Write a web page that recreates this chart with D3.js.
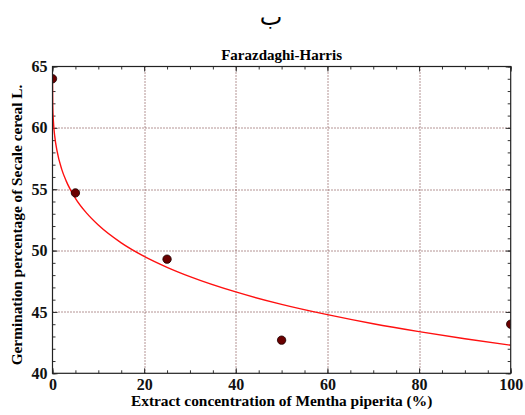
<!DOCTYPE html>
<html>
<head>
<meta charset="utf-8">
<script src="https://cdn.jsdelivr.net/npm/d3@7"></script>
<style>
	body { margin: 0; background: #fff; }
	svg { display: block; font-family: "Liberation Serif", "DejaVu Serif", serif; font-weight: bold; }
</style>
</head>
<body>
<svg class="chart" width="525" height="415"></svg>
<script>
// observed points
const concentrations = [0, 5, 25, 50, 100];
const germination = [64.0, 54.7, 49.3, 42.7, 44.0];
// fitted Farazdaghi-Harris curve
const curveX = [0, 0.05, 0.2, 0.5, 1, 2, 3, 5, 7.5, 10, 15, 20, 25, 30, 40, 50, 60, 70, 80, 90, 100];
const curveY = [64.1, 61.85, 60.53, 59.29, 58.1, 56.64, 55.66, 54.26, 53.03, 52.08, 50.63, 49.53,
	48.64, 47.88, 46.63, 45.62, 44.78, 44.04, 43.4, 42.82, 42.29];
const xTicks = [0, 20, 40, 60, 80, 100];
const yTicks = [40, 45, 50, 55, 60, 65];

function startApp() {
	const margin = {top: 66.5, left: 52.5, bottom: 41.7, right: 14.3};
	const width = 525 - margin.left - margin.right;
	const height = 415 - margin.top - margin.bottom;
	const xScale = d3.scaleLinear().domain([0, 100]).range([0, width]);
	const yScale = d3.scaleLinear().domain([40, 65]).range([height, 0]);
	const svg = d3.select('.chart');

	svg.append('text')
		.attr('x', 271).attr('y', 25)
		.attr('text-anchor', 'middle')
		.style('font-family', '"DejaVu Sans", sans-serif')
		.style('font-weight', 'normal')
		.style('font-size', '24px')
		.text('ب');

	const chart = svg.append('g')
		.attr('transform', `translate(${margin.left}, ${margin.top})`);

	chart.append('defs').append('clipPath').attr('id', 'plot-clip')
		.append('rect').attr('width', width).attr('height', height);

	// grid
	const grid = chart.append('g')
		.attr('stroke', '#6a2a2a')
		.attr('stroke-width', 1)
		.attr('stroke-dasharray', '1,2');
	grid.selectAll('.gx')
		.data(xTicks.slice(1, -1))
		.enter().append('line')
		.attr('x1', d => Math.round(xScale(d)) + 0.5).attr('x2', d => Math.round(xScale(d)) + 0.5)
		.attr('y1', 0).attr('y2', height);
	grid.selectAll('.gy')
		.data(yTicks.slice(1, -1))
		.enter().append('line')
		.attr('y1', d => Math.round(yScale(d)) + 0.5).attr('y2', d => Math.round(yScale(d)) + 0.5)
		.attr('x1', 0).attr('x2', width);

	// inside ticks on all four sides
	const xMinor = d3.range(0, 101, 5);
	const yMinor = d3.range(40, 66, 1);
	const tickAxis = (axis, transform) => chart.append('g')
		.attr('transform', transform)
		.call(axis)
		.call(g => g.select('.domain').remove())
		.call(g => g.selectAll('text').remove())
		.call(g => g.selectAll('line').attr('stroke', '#333'));
	tickAxis(d3.axisBottom(xScale).tickValues(xMinor).tickSize(-3), `translate(0, ${height})`);
	tickAxis(d3.axisTop(xScale).tickValues(xMinor).tickSize(-3), 'translate(0, 0)');
	tickAxis(d3.axisLeft(yScale).tickValues(yMinor).tickSize(-3), 'translate(0, 0)');
	tickAxis(d3.axisRight(yScale).tickValues(yMinor).tickSize(-3), `translate(${width}, 0)`);
	tickAxis(d3.axisBottom(xScale).tickValues(xTicks).tickSize(-5), `translate(0, ${height})`);
	tickAxis(d3.axisTop(xScale).tickValues(xTicks).tickSize(-5), 'translate(0, 0)');
	tickAxis(d3.axisLeft(yScale).tickValues(yTicks).tickSize(-5), 'translate(0, 0)');
	tickAxis(d3.axisRight(yScale).tickValues(yTicks).tickSize(-5), `translate(${width}, 0)`);

	// tick labels
	chart.append('g')
		.attr('transform', `translate(0, ${height})`)
		.call(d3.axisBottom(xScale).tickValues(xTicks).tickSize(0).tickPadding(5))
		.call(g => g.select('.domain').remove())
		.selectAll('text')
		.style('font-family', '"Liberation Serif", serif')
		.style('font-weight', 'bold')
		.style('font-size', '16px')
		.attr('fill', '#111');
	chart.append('g')
		.call(d3.axisLeft(yScale).tickValues(yTicks).tickSize(0).tickPadding(5))
		.call(g => g.select('.domain').remove())
		.selectAll('text')
		.style('font-family', '"Liberation Serif", serif')
		.style('font-weight', 'bold')
		.style('font-size', '16px')
		.attr('fill', '#111');

	// fitted curve
	const line = d3.line()
		.x((d, i) => xScale(curveX[i]))
		.y(d => yScale(d))
		.curve(d3.curveMonotoneX);
	chart.append('path')
		.datum(curveY)
		.attr('clip-path', 'url(#plot-clip)')
		.attr('fill', 'none')
		.attr('stroke', '#ff1010')
		.attr('stroke-width', 1.4)
		.attr('d', line);

	// observed points
	chart.append('g')
		.attr('clip-path', 'url(#plot-clip)')
		.selectAll('circle')
		.data(germination)
		.enter().append('circle')
		.attr('cx', (d, i) => xScale(concentrations[i]))
		.attr('cy', d => yScale(d))
		.attr('r', 4.2)
		.attr('fill', '#6a0000')
		.attr('stroke', '#1a0000')
		.attr('stroke-width', 0.8);

	// frame
	chart.append('rect')
		.attr('width', width).attr('height', height)
		.attr('fill', 'none')
		.attr('stroke', '#222')
		.attr('stroke-width', 1.2);

	// titles
	chart.append('text')
		.attr('x', width / 2).attr('y', -7)
		.attr('text-anchor', 'middle')
		.style('font-size', '15px')
		.text('Farazdaghi-Harris');
	chart.append('text')
		.attr('x', width / 2).attr('y', height + 33)
		.attr('text-anchor', 'middle')
		.style('font-size', '15.4px')
		.text('Extract concentration of Mentha piperita (%)');
	svg.append('text')
		.attr('transform', 'translate(22, 225) rotate(-90)')
		.attr('text-anchor', 'middle')
		.style('font-size', '15.3px')
		.text('Germination percentage of Secale cereal L.');
}

window.onload = startApp;
</script>
</body>
</html>
